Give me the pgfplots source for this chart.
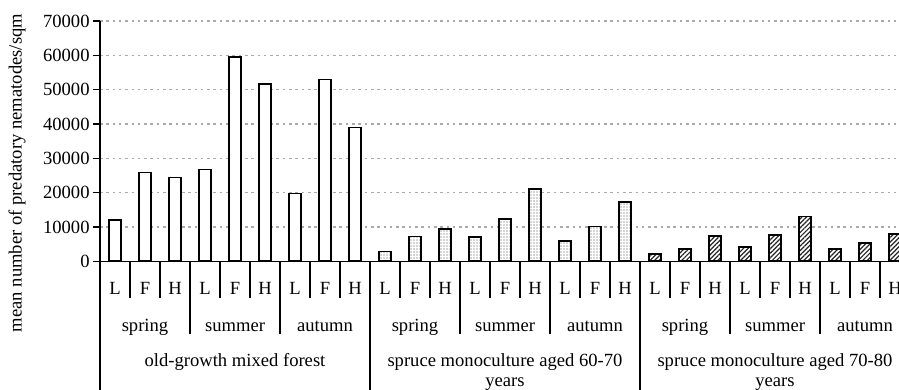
\documentclass[border=0pt]{standalone}
\usepackage{pgfplots}
\pgfplotsset{compat=1.18}
\usepackage{fontspec}
\setmainfont{Liberation Serif}
\usetikzlibrary{patterns.meta}
\definecolor{gridgray}{RGB}{170,170,170}
\begin{document}
\begin{tikzpicture}[font=\fontsize{9.3pt}{11pt}\selectfont]
\useasboundingbox (-50pt,-64.35pt) rectangle (399.5pt,130.65pt);
\clip (-50pt,-64.35pt) rectangle (399.5pt,130.65pt);
\begin{axis}[
  scale only axis,
  width=405pt, height=120.15pt,
  xmin=-0.5, xmax=26.5,
  ymin=0, ymax=70000,
  axis x line=bottom, axis y line=left,
  axis line style={-, line width=0.75pt},
  xtick=\empty,
  ytick={0,10000,...,70000},
  scaled y ticks=false,
  tick align=outside,
  major tick length=3.5pt,
  ytick style={line width=0.75pt, black},
  yticklabel style={/pgf/number format/fixed, /pgf/number format/1000 sep={}, /pgf/number format/assume math mode=true, inner sep=1.5pt},
  ymajorgrids,
  grid style={gridgray, line width=0.6pt, dash pattern=on 1.3pt off 1.85pt},
  clip=false,
]
\addplot[ybar, bar width=5.75pt, draw=black, line width=0.8pt, fill=white]
  coordinates {(0,12100) (1,25900) (2,24400) (3,26800) (4,59600) (5,51600) (6,19700) (7,53000) (8,39000)};
\addplot[ybar, bar width=5.75pt, draw=black, line width=0.8pt, fill=white,
  postaction={pattern={Dots[distance=1.5pt, radius=0.32pt]}, pattern color=black!70}]
  coordinates {(9,2800) (10,7200) (11,9400) (12,7000) (13,12300) (14,21000) (15,5900) (16,10100) (17,17200)};
\addplot[ybar, bar width=5.75pt, draw=black, line width=0.8pt, fill=white,
  postaction={pattern={Lines[angle=45, distance=1.6pt, line width=0.6pt]}, pattern color=black!85}]
  coordinates {(18,2200) (19,3500) (20,7400) (21,4100) (22,7600) (23,13000) (24,3500) (25,5300) (26,8000)};
\end{axis}
% category table lines
\foreach \k in {1,...,26} {
  \pgfmathtruncatemacro{\m}{mod(\k,3)}
  \pgfmathtruncatemacro{\n}{mod(\k,9)}
  \ifnum\m=0
    \ifnum\n=0
      \draw[line width=0.75pt] (15pt*\k,0) -- (15pt*\k,-66pt);
    \else
      \draw[line width=0.75pt] (15pt*\k,0) -- (15pt*\k,-36.5pt);
    \fi
  \else
    \draw[line width=0.75pt] (15pt*\k,0) -- (15pt*\k,-18.5pt);
  \fi
}
\draw[line width=0.75pt] (0,0) -- (0,-66pt);
% L F H labels
\foreach \s in {0,...,8} {
  \node[anchor=base, inner sep=0pt] at ({(7.5+45*\s)*1pt},-16.5pt) {L};
  \node[anchor=base, inner sep=0pt] at ({(22.5+45*\s)*1pt},-16.5pt) {F};
  \node[anchor=base, inner sep=0pt] at ({(37.5+45*\s)*1pt},-16.5pt) {H};
}
% season labels
\foreach \g in {0,1,2} {
  \node[anchor=base, inner sep=0pt] at ({(22.5+135*\g)*1pt},-35.2pt) {spring};
  \node[anchor=base, inner sep=0pt] at ({(67.5+135*\g)*1pt},-35.2pt) {summer};
  \node[anchor=base, inner sep=0pt] at ({(112.5+135*\g)*1pt},-35.2pt) {autumn};
}
% group labels
\node[anchor=base, inner sep=0pt] at (67.5pt,-52.7pt) {old-growth mixed forest};
\node[anchor=base, inner sep=0pt] at (202.5pt,-52.7pt) {spruce monoculture aged 60-70};
\node[anchor=base, inner sep=0pt] at (202.5pt,-62.7pt) {years};
\node[anchor=base, inner sep=0pt] at (337.5pt,-52.7pt) {spruce monoculture aged 70-80};
\node[anchor=base, inner sep=0pt] at (337.5pt,-62.7pt) {years};
% y label
\node[rotate=90, inner sep=0pt] at (-41.5pt,44.15pt) {mean number of predatory nematodes/sqm};
\end{tikzpicture}
\end{document}
